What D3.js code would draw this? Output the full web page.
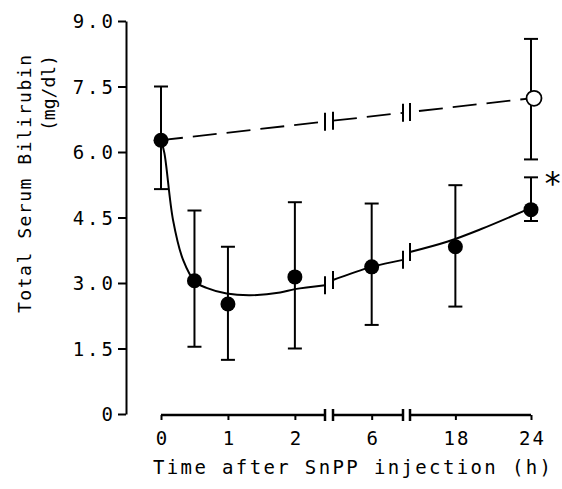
<!DOCTYPE html>
<html>
<head>
<meta charset="utf-8">
<script src="https://cdn.jsdelivr.net/npm/d3@7"></script>
<style>
  body { margin: 0; background: #fff; }
  svg { display: block; }
  text { font-family: "DejaVu Sans Mono", monospace; fill: #000; }
</style>
</head>
<body>
<div id="chart"></div>
<script>
// SnPP group (filled dots)
const timeH     = [0, 0.5, 1, 2, 6, 18, 24];
const snppMean  = [6.27, 3.05, 2.52, 3.14, 3.37, 3.83, 4.68];
const snppUpper = [7.50, 4.66, 3.83, 4.85, 4.82, 5.24, 5.42];
const snppLower = [5.15, 1.54, 1.24, 1.50, 2.04, 2.46, 4.42];

// control group (open circle at 24 h, dashed line)
const ctrlTime  = [0, 24];
const ctrlMean  = [6.27, 7.23];
const ctrlUpper = [7.50, 8.59];
const ctrlLower = [5.15, 5.83];

// fitted curve, one array pair per axis piece
const fitTime1  = [0, 0.05, 0.18, 0.33, 0.51, 0.68, 0.98, 1.33, 1.78, 2.0, 2.45];
const fitValue1 = [6.27, 5.98, 4.44, 3.53, 3.03, 2.89, 2.76, 2.72, 2.78, 2.86, 2.95];
const fitTime2  = [3.9, 6, 7.7];
const fitValue2 = [3.07, 3.37, 3.53];
const fitTime3  = [14.4, 17.4, 20.0, 24];
const fitValue3 = [3.71, 3.95, 4.23, 4.72];

// broken time axis pieces (h)
const xPieces = [[0, 2.45], [3.9, 7.7], [14.4, 24]];
const xTicks = [0, 1, 2, 6, 18, 24];
const yTicks = [0, 1.5, 3.0, 4.5, 6.0, 7.5, 9.0];
const yTickLabels = ["0", "1.5", "3.0", "4.5", "6.0", "7.5", "9.0"];

const width = 562, height = 489;
const svg = d3.select("#chart").append("svg")
  .attr("width", width)
  .attr("height", height);

const x = d3.scaleLinear()
  .domain(xPieces.flat())
  .range([161, 325, 333, 403, 410, 531]);
const y = d3.scaleLinear().domain([0, 9]).range([414, 21]);

// y axis
const yAxis = svg.append("g")
  .attr("transform", "translate(126,0)")
  .call(d3.axisLeft(y).tickValues(yTicks)
    .tickFormat((d, i) => yTickLabels[i])
    .tickSize(8).tickSizeOuter(0));
yAxis.select(".domain").attr("stroke-width", 2);
yAxis.selectAll(".tick line").attr("stroke-width", 2);
yAxis.selectAll(".tick text")
  .attr("x", -10)
  .attr("dy", "0.36em")
  .attr("font-size", "19px")
  .attr("letter-spacing", "3px")
  .attr("font-family", "DejaVu Sans Mono, monospace");

// x axis (broken)
const axisY = 415;
const xAxis = svg.append("g")
  .attr("transform", `translate(0,${axisY})`)
  .call(d3.axisBottom(x).tickValues(xTicks).tickSize(5).tickSizeOuter(0));
xAxis.select(".domain").remove();
xAxis.selectAll(".tick line").attr("stroke-width", 2);
xAxis.selectAll(".tick text")
  .attr("x", 1)
  .attr("y", 17)
  .attr("dy", "0.71em")
  .attr("font-size", "19px")
  .attr("letter-spacing", "2px")
  .attr("font-family", "DejaVu Sans Mono, monospace");

xPieces.forEach(([a, b], i) => {
  svg.append("line")
    .attr("x1", x(a)).attr("x2", x(b))
    .attr("y1", axisY).attr("y2", axisY)
    .attr("stroke", "#000").attr("stroke-width", 2.5);
  [a, b].forEach((t, j) => {
    const inner = (i > 0 && j === 0) || (i < xPieces.length - 1 && j === 1);
    if (inner) {
      svg.append("line")
        .attr("x1", x(t)).attr("x2", x(t))
        .attr("y1", axisY - 6).attr("y2", axisY + 6)
        .attr("stroke", "#000").attr("stroke-width", 2.5);
    }
  });
});

// break bar helper
function breakBar(px, py) {
  svg.append("line")
    .attr("x1", px).attr("x2", px)
    .attr("y1", py - 9).attr("y2", py + 9)
    .attr("stroke", "#000").attr("stroke-width", 2);
}

// dashed control line, straight in screen space, cut at the breaks
const p0 = [x(ctrlTime[0]), y(ctrlMean[0])];
const p1 = [x(ctrlTime[1]), y(ctrlMean[1])];
const dashY = px => p0[1] + (p1[1] - p0[1]) * (px - p0[0]) / (p1[0] - p0[0]);
xPieces.forEach(([a, b], i) => {
  const xa = x(a), xb = x(b);
  svg.append("line")
    .attr("x1", xa).attr("y1", dashY(xa))
    .attr("x2", xb).attr("y2", dashY(xb))
    .attr("stroke", "#000").attr("stroke-width", 1.8)
    .attr("stroke-dasharray", "24,10")
    .attr("stroke-dashoffset", -(xa - p0[0]) + 2);
  if (i > 0) breakBar(xa, dashY(xa));
  if (i < xPieces.length - 1) breakBar(xb, dashY(xb));
});

// fitted curve
const fitLine = d3.line()
  .x(d => x(d[0])).y(d => y(d[1]))
  .curve(d3.curveCatmullRom.alpha(0.5));
[[fitTime1, fitValue1], [fitTime2, fitValue2], [fitTime3, fitValue3]].forEach(([ts, vs], i) => {
  const pts = ts.map((t, k) => [t, vs[k]]);
  svg.append("path")
    .attr("d", fitLine(pts))
    .attr("fill", "none").attr("stroke", "#000").attr("stroke-width", 2);
  if (i > 0) breakBar(x(ts[0]), y(vs[0]));
  if (i < 2) breakBar(x(ts[ts.length - 1]), y(vs[vs.length - 1]));
});

// error bars
function errorBars(ts, lo, hi) {
  ts.forEach((t, i) => {
    const cx = x(t);
    svg.append("line")
      .attr("x1", cx).attr("x2", cx)
      .attr("y1", y(lo[i])).attr("y2", y(hi[i]))
      .attr("stroke", "#000").attr("stroke-width", 2);
    [lo[i], hi[i]].forEach(v => {
      svg.append("line")
        .attr("x1", cx - 7).attr("x2", cx + 7)
        .attr("y1", y(v)).attr("y2", y(v))
        .attr("stroke", "#000").attr("stroke-width", 2);
    });
  });
}
errorBars(timeH, snppLower, snppUpper);
errorBars(ctrlTime.slice(1), ctrlLower.slice(1), ctrlUpper.slice(1));

// points
svg.selectAll("circle.snpp")
  .data(timeH)
  .enter().append("circle")
  .attr("class", "snpp")
  .attr("cx", d => x(d))
  .attr("cy", (d, i) => y(snppMean[i]))
  .attr("r", 7.5)
  .attr("fill", "#000");

svg.selectAll("circle.ctrl")
  .data(ctrlTime.slice(1))
  .enter().append("circle")
  .attr("class", "ctrl")
  .attr("cx", d => x(d) + 3)
  .attr("cy", (d, i) => y(ctrlMean[i + 1]))
  .attr("r", 7.5)
  .attr("fill", "#fff")
  .attr("stroke", "#000")
  .attr("stroke-width", 1.8);

// significance mark
svg.append("text")
  .attr("x", 543)
  .attr("y", 194)
  .attr("font-size", "32px")
  .attr("font-family", "DejaVu Sans, sans-serif")
  .text("*");

// axis titles
svg.append("text")
  .attr("x", 153)
  .attr("y", 474)
  .attr("font-size", "19px")
  .attr("textLength", 398)
  .attr("lengthAdjust", "spacing")
  .text("Time after SnPP injection (h)");

svg.append("text")
  .attr("transform", "translate(31,55) rotate(-90)")
  .attr("text-anchor", "end")
  .attr("font-size", "18px")
  .attr("textLength", 258)
  .attr("lengthAdjust", "spacing")
  .text("Total Serum Bilirubin");

svg.append("text")
  .attr("transform", "translate(55,55) rotate(-90)")
  .attr("text-anchor", "end")
  .attr("font-size", "18px")
  .attr("textLength", 76)
  .attr("lengthAdjust", "spacing")
  .text("(mg/dl)");
</script>
</body>
</html>
